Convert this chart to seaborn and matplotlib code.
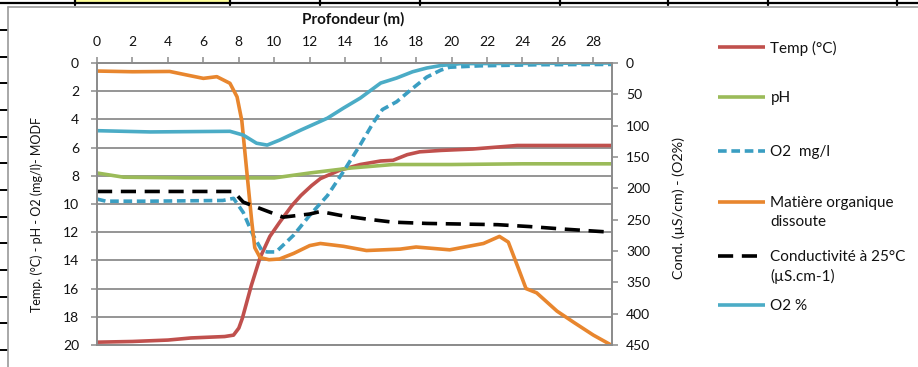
import numpy as np
import pandas as pd
import seaborn as sns
import matplotlib
matplotlib.use("Agg")
import matplotlib.pyplot as plt
from matplotlib.lines import Line2D
from matplotlib.patches import Rectangle

# ---- profile data (depth in m) ----
depth_temp = [0, 2, 4, 5.3, 7.2, 7.7, 8.0, 8.2, 8.7, 9.2, 9.75, 10.3, 11.0, 11.5, 12.1, 12.6,
              13.7, 14.85, 16, 16.7, 17.5, 18.2, 19.4, 21.2, 23.7, 29]
temp = [19.8, 19.75, 19.65, 19.5, 19.4, 19.3, 18.8, 18.1, 15.8, 13.8, 12.3, 11.3, 10.1, 9.4,
        8.7, 8.2, 7.6, 7.2, 6.95, 6.9, 6.5, 6.3, 6.2, 6.1, 5.85, 5.85]

depth_ph = [0, 1.5, 5, 10, 12, 14.3, 16.7, 20, 24, 29]
ph = [7.8, 8.1, 8.15, 8.15, 7.8, 7.45, 7.2, 7.2, 7.15, 7.15]

depth_o2 = [0, 0.5, 3, 7.1, 7.7, 8.25, 8.8, 9.3, 9.6, 10.1, 11.1, 12, 13, 13.9, 14.85,
            15.6, 16.1, 16.9, 17.8, 18.6, 19.4, 19.9, 21.6, 25, 29]
o2_mgl = [9.65, 9.8, 9.8, 9.75, 9.6, 10.6, 12.2, 13.3, 13.4, 13.4, 12.2, 10.8, 9.4, 7.7, 5.8,
          4.2, 3.3, 2.75, 1.8, 1.0, 0.5, 0.3, 0.2, 0.12, 0.1]

depth_mo = [0, 2, 4.1, 5.06, 6.0, 6.76, 7.5, 7.9, 8.17, 8.45, 8.73, 8.9, 9.2, 9.7, 10.3, 11.1,
            12.0, 12.6, 13.9, 15.2, 17.1, 18.0, 19.9, 21.8, 22.7, 23.2, 23.75, 24.2, 24.8,
            25.95, 26.9, 28, 29]
modf = [0.57, 0.62, 0.6, 0.85, 1.09, 0.97, 1.44, 2.4, 4.1, 7.7, 11.25, 13.1, 13.8, 13.95, 13.9,
        13.5, 12.95, 12.8, 13.0, 13.3, 13.2, 13.05, 13.25, 12.8, 12.3, 12.7, 14.5, 16.0, 16.3,
        17.6, 18.4, 19.3, 20.0]

depth_cond = [0, 7.7, 8.25, 9.75, 10.5, 12, 12.6, 13.7, 15.2, 16.7, 18.6, 22.6, 24.4, 26.3, 29]
cond = [205, 205, 222, 238, 246, 241, 237, 243, 249, 254, 256, 258, 261, 265, 270]

depth_o2p = [0, 3, 7.5, 8.25, 9.0, 9.6, 10.3, 11.5, 13, 13.9, 14.85, 16, 16.9, 17.8, 18.6,
             19.4, 20.5, 29]
o2_pct = [108, 110, 109, 115, 128, 131, 123, 107, 88, 72, 56, 32, 24, 14, 8, 4, 1, 0]

x_ticks = list(range(0, 29, 2))
left_ticks = list(range(0, 21, 2))
right_ticks = list(range(0, 451, 50))

labels = ["Temp (°C)", "pH", "O2  mg/l", "Matière organique\ndissoute",
          "Conductivité à 25°C\n(µS.cm-1)", "O2 %"]

# ---- styling ----
sns.set_style("white")
plt.rcParams["font.family"] = ["Lato", "DejaVu Sans"]
plt.rcParams["font.size"] = 10

W, H = 918, 367
fig = plt.figure(figsize=(W / 100, H / 100), dpi=100)


def fx(px):
    return px / W


def fy(py):
    return 1 - py / H


ax = fig.add_axes([fx(97), fy(345), fx(612) - fx(97), fy(63) - fy(345)])
ax2 = ax.twinx()

RED = "#C0504D"
GREEN = "#9BBB59"
BLUE_D = "#3A9EC2"
ORANGE = "#E8862E"
CYAN = "#4BACC6"
LW = 2.6


def draw(axis, xs, ys, color, dashes=None):
    df = pd.DataFrame({"depth": xs, "value": ys})
    sns.lineplot(data=df, x="depth", y="value", ax=axis, color=color, lw=LW,
                 estimator=None, sort=False)
    line = axis.get_lines()[-1]
    line.set_solid_joinstyle("round")
    line.set_solid_capstyle("butt")
    if dashes is not None:
        line.set_dashes(dashes)
        line.set_dash_capstyle("butt")
    return line


h_temp = draw(ax, depth_temp, temp, RED)
h_ph = draw(ax, depth_ph, ph, GREEN)
h_o2 = draw(ax, depth_o2, o2_mgl, BLUE_D, dashes=(2.4, 1.3))
h_mo = draw(ax, depth_mo, modf, ORANGE)
h_cond = draw(ax2, depth_cond, cond, "black", dashes=(4.2, 2.4))
h_o2p = draw(ax2, depth_o2p, o2_pct, CYAN)

GRID = "#8c8c8c"
TXT = "#111111"
ax.set_xlim(0, 29.05)
ax.set_ylim(20, 0)
ax2.set_ylim(450, 0)
ax.set_yticks(left_ticks)
ax2.set_yticks(right_ticks)
ax.set_xticks(x_ticks)
ax.xaxis.tick_top()
ax.xaxis.set_label_position("top")
ax.grid(axis="y", color=GRID, lw=1.3)
ax.grid(axis="x", visible=False)
ax2.grid(False)
ax.set_axisbelow(True)

for a in (ax, ax2):
    for s in a.spines.values():
        s.set_color(GRID)
        s.set_linewidth(1.3)

ax.tick_params(axis="x", which="both", top=True, bottom=False, direction="out",
               length=4, width=1.1, color=GRID, pad=6.5, labelsize=10, labelcolor=TXT)
ax.tick_params(axis="y", direction="out", length=4, width=1.1, color=GRID, pad=9,
               labelsize=10, labelcolor=TXT)
ax2.tick_params(axis="y", direction="out", length=4, width=1.1, color=GRID, pad=6,
                labelsize=10, labelcolor=TXT)

ax.set_xlabel("Profondeur (m)", fontweight="bold", fontsize=11, color=TXT, va="center")
ax.xaxis.set_label_coords((353 - 97) / 515, 1 + (63 - 19) / 282)
ax.set_ylabel("Temp. (°C) - pH - O2 (mg/l)- MODF", fontsize=9, color=TXT, va="center")
ax.yaxis.set_label_coords((37 - 97) / 515, 1 - (214 - 63) / 282)
ax2.set_ylabel("Cond. (µS/cm) - (O2%)", fontsize=10.4, color=TXT, va="center")
ax2.yaxis.set_label_coords((679 - 97) / 515, 1 - (208 - 63) / 282)

# ---- legend entries, one per series ----
handles = [h_temp, h_ph, h_o2, h_mo, h_cond, h_o2p]
legend_y = [48, 98, 152, 203, 257, 306]
for h, lab, py in zip(handles, labels, legend_y):
    first, *rest = lab.split("\n")
    proxy = Line2D([], [], color=h.get_color(), lw=LW, solid_capstyle="butt",
                   dash_capstyle="butt")
    pattern = h._dash_pattern[1]
    if pattern:
        proxy.set_dashes(tuple(np.array(pattern) / LW))
    fig.legend([proxy], [first], loc="center left", bbox_to_anchor=(fx(718), fy(py)),
               frameon=False, borderpad=0, borderaxespad=0, handlelength=3.1,
               handletextpad=0.33, fontsize=11, labelcolor=TXT)
    for k, extra in enumerate(rest, start=1):
        fig.text(fx(770), fy(py + 19 * k), extra, fontsize=11, va="center", ha="left",
                 color=TXT)

# ---- surrounding worksheet cell borders ----
fig.add_artist(Rectangle((fx(75), fy(3)), fx(230) - fx(75), fy(0) - fy(3),
                         transform=fig.transFigure, color="#FFFF99", lw=0))
fig.add_artist(Line2D([0, 1], [fy(3), fy(3)], transform=fig.transFigure, color="black", lw=1.6))
for px in [75, 230, 320, 420, 560, 668, 768, 897]:
    fig.add_artist(Line2D([fx(px), fx(px)], [fy(0), fy(5)], transform=fig.transFigure,
                          color="black", lw=1.6))
for py in np.linspace(30, 350, 13):
    fig.add_artist(Line2D([0, fx(7)], [fy(py), fy(py)], transform=fig.transFigure,
                          color="black", lw=1.4))
fig.add_artist(Line2D([fx(8), 1], [fy(7), fy(7)], transform=fig.transFigure,
                      color="#9a9a9a", lw=1.2))
fig.add_artist(Line2D([fx(8), fx(8)], [fy(7), 0], transform=fig.transFigure,
                      color="#9a9a9a", lw=1.2))

fig.savefig("out.png", dpi=100)
